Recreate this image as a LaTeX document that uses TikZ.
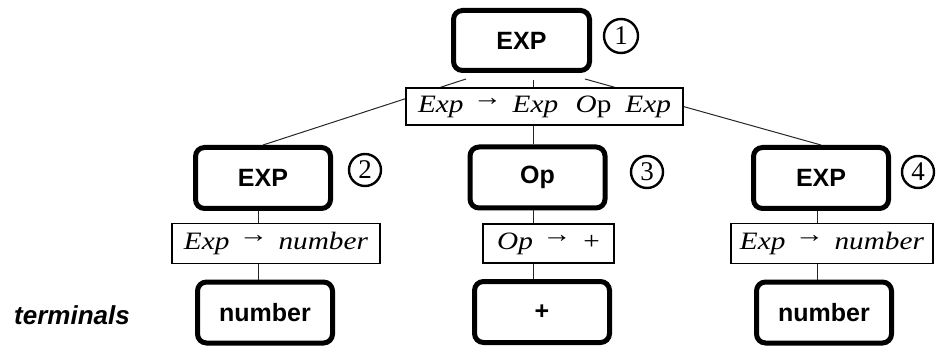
\documentclass[tikz,border=0pt]{standalone}
\usepackage{fontspec}
\setmainfont{Liberation Serif}
\newfontfamily\boxfont{Liberation Sans}
\usetikzlibrary{calc}

\tikzset{
  sym/.style={draw=black, line width=5pt, rounded corners=9pt,
    minimum width=135pt, minimum height=61pt, inner sep=0pt,
    font=\boxfont\bfseries\fontsize{25}{25}\selectfont},
  rulebox/.style={draw=black, fill=white, line width=1.1pt,
    minimum height=40pt, inner sep=0pt,
    font=\fontsize{25}{25}\selectfont},
  badge/.style={circle, draw=black, line width=2.4pt, minimum size=32pt,
    inner sep=0pt, font=\fontsize{27}{27}\selectfont},
  link/.style={draw=black!85, line width=1pt},
}
% production arrow, raised like a superscript
\newcommand\prodarrow{\raisebox{7pt}{→}}
% productions are set in a horizontally widened serif
\newcommand\prodtext[1]{\scalebox{1.17}[1]{#1}}

\begin{document}
\begin{tikzpicture}[x=1pt, y=-1pt]
  \useasboundingbox (0,0) rectangle (941,347);

  % grammar symbols
  \node[sym, minimum width=136pt, minimum height=60pt] (top) at (521.5,40.5) {EXP};
  \node[sym] (exp2) at (263,178) {EXP};
  \node[sym] (op)   at (537.5,177.5) {Op};
  \node[sym] (exp4) at (821,178) {EXP};
  \node[sym] (num2) at (265,312.5) {number};
  \node[sym] (plus) at (542,312) {+};
  \node[sym] (num4) at (824,312.5) {number};

  % step numbers
  \node[badge, minimum size=34pt] (b1) at (621,36) {1};
  \node[badge] (b2) at (365,170) {2};
  \node[badge] (b3) at (647,172) {3};
  \node[badge] (b4) at (918,172) {4};

  % tree edges
  \coordinate (l1) at (466,79);
  \coordinate (m1) at (533,80);
  \coordinate (r1) at (585,79);
  \draw[link] (l1) -- (exp2.north);
  \draw[link] (m1) -- (m1 |- op.north);
  \draw[link] (r1) -- (exp4.north);
  \draw[link] ([xshift=-5pt]exp2.south) -- ([xshift=-5pt]exp2.south |- num2.north);
  \draw[link] ([xshift=-4.5pt]op.south) -- ([xshift=-4.5pt]op.south |- plus.north);
  \draw[link] ([xshift=-4pt]exp4.south) -- ([xshift=-4pt]exp4.south |- num4.north);

  % productions applied at each step
  \node[rulebox, minimum width=277pt, minimum height=37pt] (p1) at (544.5,106.5)
    {\prodtext{\textit{Exp}\hspace{8pt}\prodarrow\hspace{9pt}\textit{Exp}\hspace{15pt}\textit{O}p\hspace{12pt}\textit{Exp}}};
  \node[rulebox, minimum width=208pt] (p2) at (276,243.5)
    {\prodtext{\textit{Exp}\hspace{8pt}\prodarrow\hspace{9pt}\textit{number}}};
  \node[rulebox, minimum width=131pt, minimum height=39pt] (p3) at (548.5,243.5)
    {\prodtext{\textit{Op}\hspace{8pt}\prodarrow\hspace{10pt}+}};
  \node[rulebox, minimum width=202pt] (p4) at (832,243.5)
    {\prodtext{\textit{Exp}\hspace{8pt}\prodarrow\hspace{9pt}\textit{number}}};

  \node[font=\boxfont\bfseries\itshape\fontsize{26}{26}\selectfont] (term) at (72,315) {terminals};
\end{tikzpicture}
\end{document}
